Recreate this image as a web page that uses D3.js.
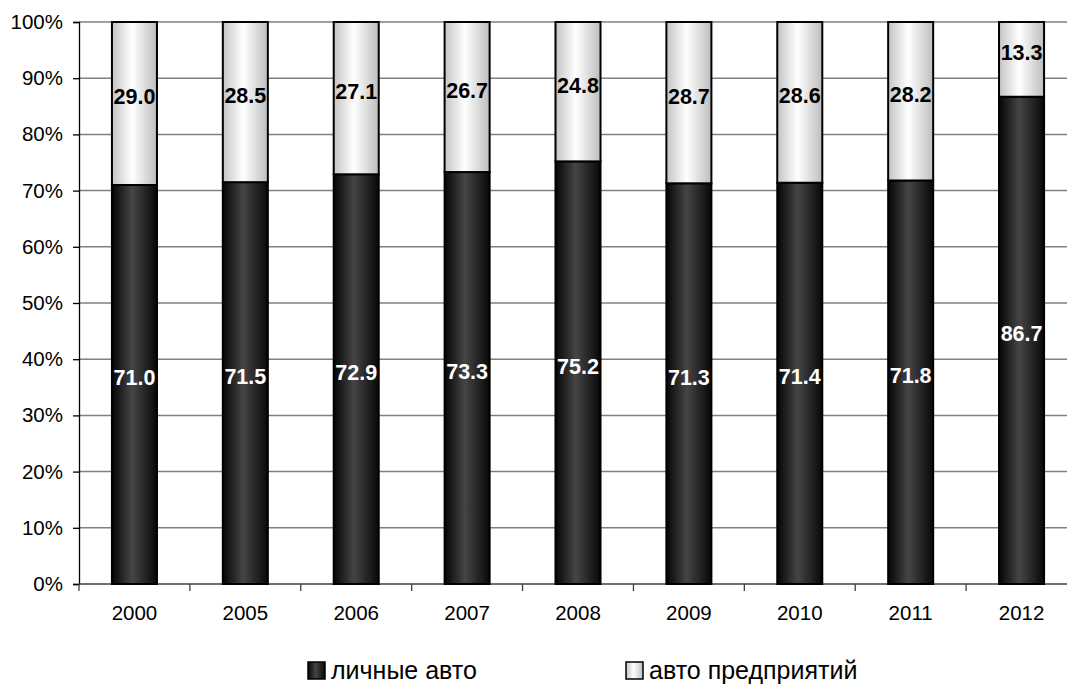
<!DOCTYPE html>
<html><head><meta charset="utf-8">
<script src="https://cdn.jsdelivr.net/npm/d3@7"></script>
<style>body{margin:0;background:#fff;overflow:hidden}svg{display:block}text{font-family:"Liberation Sans",Arial,sans-serif}</style>
</head><body><svg id="c" width="1067" height="686"></svg>
<script>
const years = ["2000","2005","2006","2007","2008","2009","2010","2011","2012"];
const personal = [71.0,71.5,72.9,73.3,75.2,71.3,71.4,71.8,86.7];
const company = [29.0,28.5,27.1,26.7,24.8,28.7,28.6,28.2,13.3];
const yTicks = [0,10,20,30,40,50,60,70,80,90,100];
const seriesNames = ["личные авто","авто предприятий"];

const svg = d3.select("#c");
const L=79, T=22, B=584, R=1077;
const x = d3.scaleBand().domain(years).range([L,R]).paddingInner(0.594).paddingOuter(0.297);
const y = d3.scaleLinear().domain([0,100]).range([B,T]);

const defs = svg.append("defs");
const gd = defs.append("linearGradient").attr("id","gDark");
[[0,"#050505"],[0.45,"#454545"],[1,"#080808"]].forEach(s=>gd.append("stop").attr("offset",s[0]).attr("stop-color",s[1]));
const gl = defs.append("linearGradient").attr("id","gLight");
[[0,"#c4c4c4"],[0.45,"#ffffff"],[1,"#bdbdbd"]].forEach(s=>gl.append("stop").attr("offset",s[0]).attr("stop-color",s[1]));

// gridlines
svg.append("g").selectAll("line").data(yTicks.slice(1)).join("line")
  .attr("x1",L).attr("x2",R).attr("y1",d=>y(d)).attr("y2",d=>y(d))
  .attr("stroke","#808080").attr("stroke-width",1.5);

// y axis
const ya = svg.append("g").attr("transform",`translate(${L},0)`)
  .call(d3.axisLeft(y).tickValues(yTicks).tickFormat(d=>d+"%").tickSize(6).tickPadding(10));
ya.select(".domain").attr("stroke","#000").attr("stroke-width",1.3);
ya.selectAll(".tick line").attr("stroke","#000").attr("stroke-width",1.3);
ya.selectAll("text").attr("font-size",20.5).attr("fill","#000").style("font-family","Liberation Sans, Arial, sans-serif");

// x axis
svg.append("line").attr("x1",L).attr("x2",R).attr("y1",B).attr("y2",B).attr("stroke","#404040").attr("stroke-width",1.5);
const step = x.step();
svg.append("g").selectAll("line").data(d3.range(years.length+1)).join("line")
  .attr("x1",i=>L+i*step).attr("x2",i=>L+i*step).attr("y1",B).attr("y2",B+7)
  .attr("stroke","#404040").attr("stroke-width",1.3);
svg.append("g").selectAll("text").data(years).join("text")
  .attr("x",d=>x(d)+x.bandwidth()/2).attr("y",B+36).attr("text-anchor","middle")
  .attr("font-size",20.5).text(d=>d);

// bars
const bw = x.bandwidth();
const g = svg.append("g");
g.selectAll("rect.p").data(years).join("rect").attr("class","p")
  .attr("x",d=>x(d)).attr("width",bw)
  .attr("y",(d,i)=>y(personal[i])).attr("height",(d,i)=>B-y(personal[i]))
  .attr("fill","url(#gDark)").attr("stroke","#000").attr("stroke-width",2);
g.selectAll("rect.c").data(years).join("rect").attr("class","c")
  .attr("x",d=>x(d)).attr("width",bw)
  .attr("y",(d,i)=>y(personal[i]+company[i])).attr("height",(d,i)=>y(personal[i])-y(personal[i]+company[i]))
  .attr("fill","url(#gLight)").attr("stroke","#000").attr("stroke-width",2);

// labels
g.selectAll("text.p").data(years).join("text").attr("class","p")
  .attr("x",d=>x(d)+bw/2).attr("y",(d,i)=>y(personal[i]/2)+1)
  .attr("text-anchor","middle").attr("font-size",21.5).attr("font-weight","bold").attr("fill","#fff")
  .text((d,i)=>personal[i].toFixed(1));
g.selectAll("text.c").data(years).join("text").attr("class","c")
  .attr("x",d=>x(d)+bw/2).attr("y",(d,i)=>y(personal[i]+company[i]/2)+1)
  .attr("text-anchor","middle").attr("font-size",21.5).attr("font-weight","bold").attr("fill","#000")
  .text((d,i)=>company[i].toFixed(1));

// legend
const leg = [{n:seriesNames[0],f:"url(#gDark)",x:308},{n:seriesNames[1],f:"url(#gLight)",x:626}];
const lg = svg.append("g").selectAll("g").data(leg).join("g").attr("transform",d=>`translate(${d.x},662)`);
lg.append("rect").attr("width",17).attr("height",17).attr("fill",d=>d.f).attr("stroke","#000").attr("stroke-width",1.5);
lg.append("text").attr("x",23).attr("y",17).attr("font-size",25).text(d=>d.n);
</script></body></html>
